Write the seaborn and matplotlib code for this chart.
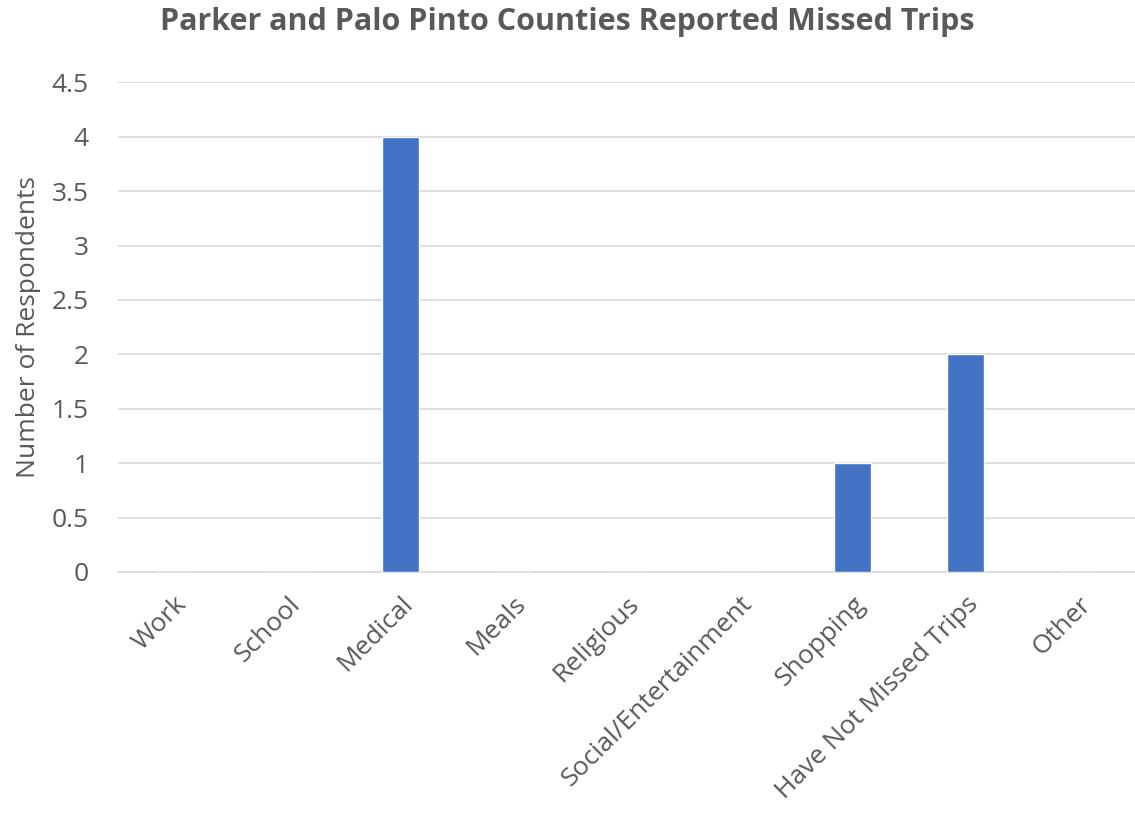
import matplotlib
matplotlib.use('Agg')
import matplotlib.pyplot as plt
import seaborn as sns
import pandas as pd

# data
categories = ['Work', 'School', 'Medical', 'Meals', 'Religious',
              'Social/Entertainment', 'Shopping', 'Have Not Missed Trips', 'Other']
respondents = [0, 0, 4, 0, 0, 0, 1, 2, 0]
y_ticks = [0, 0.5, 1, 1.5, 2, 2.5, 3, 3.5, 4, 4.5]
y_tick_labels = ['0', '0.5', '1', '1.5', '2', '2.5', '3', '3.5', '4', '4.5']

df = pd.DataFrame({'category': categories, 'respondents': respondents})

sns.set_style('white')
plt.rcParams['font.family'] = ['Open Sans', 'DejaVu Sans']

text_color = '#595959'
fig = plt.figure(figsize=(11.35, 8.23), dpi=100)
ax = fig.add_axes([0.104, 0.305, 0.896, 0.595])

sns.barplot(data=df, x='category', y='respondents', color='#4472C4',
            width=0.32, saturation=1, ax=ax, zorder=3)

ax.set_ylim(0, 4.5)
ax.set_yticks(y_ticks)
ax.set_yticklabels(y_tick_labels, fontsize=19, color=text_color)
ax.yaxis.grid(True, color='#D9D9D9', linewidth=1.2, zorder=0)
ax.set_axisbelow(True)

for side in ['top', 'right', 'left']:
    ax.spines[side].set_visible(False)
ax.spines['bottom'].set_color('#D9D9D9')
ax.spines['bottom'].set_linewidth(1.2)

ax.tick_params(axis='y', length=0, pad=21)
ax.set_xticks(range(len(categories)))
ax.set_xticklabels(categories, rotation=45, ha='right', rotation_mode='anchor',
                   fontsize=19, color=text_color)
ax.tick_params(axis='x', length=0, pad=14)

ax.set_xlabel('')
ax.set_ylabel('Number of Respondents', fontsize=19, color=text_color, labelpad=8)

fig.suptitle('Parker and Palo Pinto Counties Reported Missed Trips',
             fontsize=22, fontweight='bold', color=text_color, x=0.5, y=0.992)

fig.savefig('out.png', dpi=100)
